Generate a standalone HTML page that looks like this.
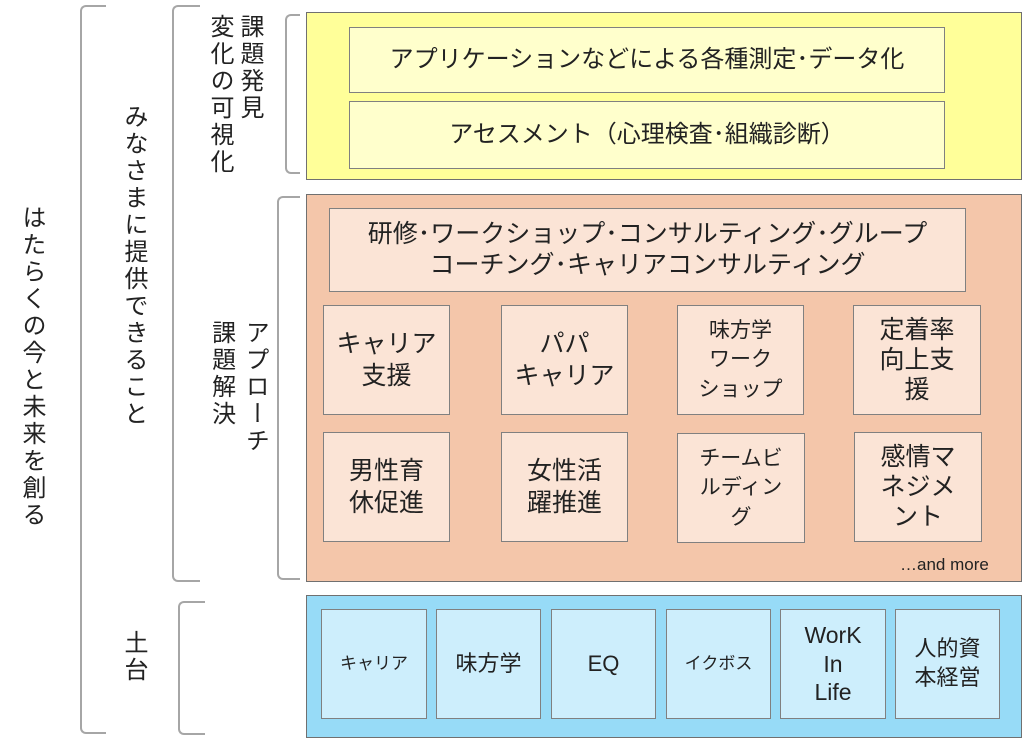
<!DOCTYPE html>
<html><head><meta charset="utf-8"><style>
body{margin:0;width:1024px;height:739px;background:#fff;position:relative;overflow:hidden;font-family:"Liberation Sans","Noto Sans CJK JP",sans-serif;color:#222}
div{position:absolute;box-sizing:border-box}
.br{border:2px solid #a6a6a6;border-right:none;border-radius:6px 0 0 6px}
.v{writing-mode:vertical-rl;white-space:nowrap;line-height:1.25;letter-spacing:3px}
.p{border:1px solid #707070}
.b{display:flex;align-items:center;justify-content:center;text-align:center;border:1px solid #808080;line-height:1.3}
</style></head><body>
<div class="br" style="left:80px;top:5px;width:26px;height:729px"></div>
<div class="br" style="left:172px;top:5px;width:28px;height:577px"></div>
<div class="br" style="left:178px;top:601px;width:27px;height:134px"></div>
<div class="br" style="left:285px;top:14px;width:15px;height:160px"></div>
<div class="br" style="left:277px;top:196px;width:23px;height:384px"></div>

<div class="v" style="left:16px;top:205px;font-size:24px">はたらくの今と未来を創る</div>
<div class="v" style="left:118px;top:104px;font-size:24px">みなさまに提供できること</div>
<div class="v" style="left:118px;top:630px;font-size:24px">土台</div>
<div class="v" style="left:204px;top:14px;font-size:24px">課題発見<br>変化の可視化</div>
<div class="v" style="left:204px;top:320px;font-size:24px;line-height:1.4">アプローチ<br>課題解決</div>

<div class="p" style="left:306px;top:12px;width:716px;height:168px;background:#ffff99"></div>
<div class="b" style="left:349px;top:27px;width:596px;height:66px;background:#ffffcc;font-size:24px">アプリケーションなどによる各種測定･データ化</div>
<div class="b" style="left:349px;top:101px;width:596px;height:68px;background:#ffffcc;font-size:24px">アセスメント（心理検査･組織診断）</div>

<div class="p" style="left:306px;top:194px;width:716px;height:388px;background:#f4c6aa"></div>
<div class="b" style="left:329px;top:208px;width:637px;height:84px;background:#fbe4d6;font-size:25px;line-height:1.25">研修･ワークショップ･コンサルティング･グループ<br>コーチング･キャリアコンサルティング</div>
<div class="b" style="left:323px;top:305px;width:127px;height:110px;background:#fbe4d6;font-size:25px">キャリア<br>支援</div>
<div class="b" style="left:501px;top:305px;width:127px;height:110px;background:#fbe4d6;font-size:25px">パパ<br>キャリア</div>
<div class="b" style="left:677px;top:305px;width:127px;height:110px;background:#fbe4d6;font-size:21px;line-height:1.4">味方学<br>ワーク<br>ショップ</div>
<div class="b" style="left:853px;top:305px;width:128px;height:110px;background:#fbe4d6;font-size:25px;line-height:1.2">定着率<br>向上支<br>援</div>
<div class="b" style="left:323px;top:432px;width:127px;height:110px;background:#fbe4d6;font-size:25px">男性育<br>休促進</div>
<div class="b" style="left:501px;top:432px;width:127px;height:110px;background:#fbe4d6;font-size:25px">女性活<br>躍推進</div>
<div class="b" style="left:677px;top:433px;width:128px;height:110px;background:#fbe4d6;font-size:21px;line-height:1.4">チームビ<br>ルディン<br>グ</div>
<div class="b" style="left:854px;top:432px;width:128px;height:110px;background:#fbe4d6;font-size:25px;line-height:1.2">感情マ<br>ネジメ<br>ント</div>
<div style="left:900px;top:555px;font-size:17px;white-space:nowrap">…and more</div>

<div class="p" style="left:306px;top:595px;width:716px;height:143px;background:#97dbf7"></div>
<div class="b" style="left:321px;top:609px;width:106px;height:110px;background:#cdeefc;font-size:17px">キャリア</div>
<div class="b" style="left:436px;top:609px;width:105px;height:110px;background:#cdeefc;font-size:22px">味方学</div>
<div class="b" style="left:551px;top:609px;width:105px;height:110px;background:#cdeefc;font-size:22px">EQ</div>
<div class="b" style="left:666px;top:609px;width:105px;height:110px;background:#cdeefc;font-size:17px">イクボス</div>
<div class="b" style="left:780px;top:609px;width:106px;height:110px;background:#cdeefc;font-size:23px;line-height:1.25">WorK<br>In<br>Life</div>
<div class="b" style="left:895px;top:609px;width:105px;height:110px;background:#cdeefc;font-size:22px">人的資<br>本経営</div>
</body></html>
